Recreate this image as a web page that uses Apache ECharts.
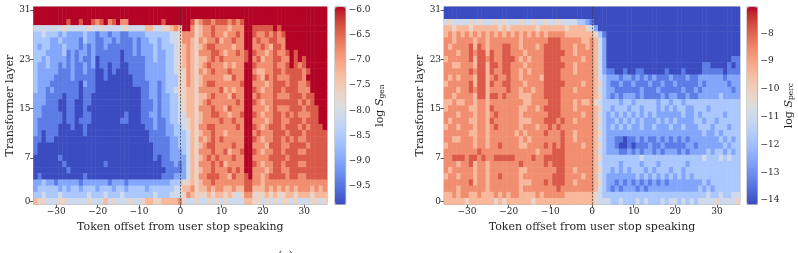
<!DOCTYPE html>
<html>
<head>
<meta charset="utf-8">
<script src="https://cdn.jsdelivr.net/npm/echarts@6/dist/echarts.min.js"></script>
<style>
html,body{margin:0;padding:0;background:#fff;}
#chart{width:798px;height:253px;}
</style>
</head>
<body>
<div id="chart"></div>
<script>
// ---------- data ----------
const X_OFFSETS = [-35,-34,-33,-32,-31,-30,-29,-28,-27,-26,-25,-24,-23,-22,-21,-20,-19,-18,-17,-16,-15,-14,-13,-12,-11,-10,-9,-8,-7,-6,-5,-4,-3,-2,-1,0,1,2,3,4,5,6,7,8,9,10,11,12,13,14,15,16,17,18,19,20,21,22,23,24,25,26,27,28,29,30,31,32,33,34,35];
const LAYERS = [0,1,2,3,4,5,6,7,8,9,10,11,12,13,14,15,16,17,18,19,20,21,22,23,24,25,26,27,28,29,30,31];
const X_TICKS = [-30,-20,-10,0,10,20,30];
const Y_TICKS = [0,7,15,23,31];
const GEN_TICKS = [-9.5,-9.0,-8.5,-8.0,-7.5,-7.0,-6.5,-6.0];
const PERC_TICKS = [-14,-13,-12,-11,-10,-9,-8];
const GEN_RANGE = [-9.864,-5.952];
const PERC_RANGE = [-14.16,-7.05];
// value of each code digit (read levels, blue -> red)
const GEN_LEVELS = [-9.86,-9.43,-8.99,-8.56,-8.12,-7.69,-7.26,-6.82,-6.39,-5.95];
const PERC_LEVELS = [-14.16,-13.37,-12.58,-11.79,-11.00,-10.21,-9.42,-8.63,-7.84,-7.05];

// rows listed from layer 31 (top) down to layer 0; columns offset -35 .. 35
const GEN_ROWS = [
"99999 99999 99999 99999 99999 99999 99999 99999 99999 99999 99999 99999 99999 99999 9",
"99999 99999 99999 99999 99999 99999 99999 99999 99999 99999 99999 99999 99999 99999 9",
"99999 99989 98998 78978 97799 99999 98999 99986 78878 88787 89999 99999 99999 99999 9",
"44444 44544 44454 45444 44544 44664 45567 69975 67787 77677 79988 88898 99999 99999 9",
"33433 32322 22322 12212 21122 22333 33344 57775 67787 76778 79987 78787 89999 99999 9",
"33332 23222 21322 11221 21112 12233 23344 57765 76778 67787 79978 77887 79999 99999 9",
"32332 22322 21212 11211 11112 12223 23334 56765 67887 77767 79977 87688 79999 99999 9",
"33322 22312 12212 11111 10112 12223 22334 56765 77788 76778 78987 76787 78989 99999 9",
"33232 22212 12112 01111 10111 11223 22334 56765 66787 87777 78978 67788 77989 89999 9",
"32232 21212 11212 01101 10011 11222 22334 56765 67877 76767 79987 77787 78987 89999 9",
"32222 21112 11211 00101 00011 11222 22334 55765 76787 77877 79976 67788 78888 78999 9",
"32222 11112 11111 00100 00001 11222 22333 55765 67777 76687 79987 68787 77888 79999 9",
"32221 11111 10211 00000 00001 11122 12333 55765 67887 77777 89977 76788 87887 78999 9",
"32212 11111 10111 00000 00000 01122 12334 55665 77777 86767 79987 67788 78887 77999 9",
"22211 11011 10110 00000 00000 01122 12233 55665 66787 77687 79978 77787 77888 78899 9",
"22211 10011 00110 00000 00000 01112 12233 45665 67877 77778 79987 67788 88887 87899 9",
"22111 10011 00100 00000 00000 01112 12233 45665 77787 76877 79977 76787 77888 78889 9",
"22111 11011 00110 00000 00100 01122 12233 44665 67788 77677 89987 67788 78787 77889 9",
"21111 11011 01110 00000 01100 01112 11233 44565 67777 87787 79977 76788 77888 78889 9",
"21111 10001 00100 00000 00000 00112 11223 34565 77887 77778 79987 67888 78887 87888 9",
"21011 10000 00100 00000 00000 00011 11223 33465 67787 76777 79978 77788 87888 78888 8",
"11011 00000 00000 00000 00000 00011 11122 33465 76787 87777 79987 67788 78787 78888 8",
"10000 00000 00000 00000 00000 00001 11122 33465 67887 77787 79977 76888 77888 87888 8",
"10000 00000 00000 00000 00000 00001 11122 23465 77787 78677 89987 67788 78887 78888 8",
"00000 01000 00000 00000 00000 00001 01122 22465 67878 77787 79977 77888 87888 88888 8",
"00000 00100 00000 00100 00000 00000 01112 12465 77787 86777 79987 67788 78887 78888 8",
"00000 00010 00000 00000 00000 00000 00111 12465 67787 77878 79977 76788 77888 88888 8",
"01000 00000 00100 00000 00000 00000 01112 22465 77888 77687 78977 67888 87887 78888 8",
"22322 12222 21222 22212 22122 22222 22233 35565 67787 77777 78877 67777 77777 77777 7",
"23333 32323 32333 23332 33233 33233 33334 46675 66767 76676 68866 67676 76767 77676 7",
"33433 34333 33343 33433 34333 33334 33344 45765 55656 65654 57755 56565 56656 66566 6",
"65544 45544 44454 44645 44454 45665 56666 75445 44545 45444 46655 45454 55454 44554 5"
];

const PERC_ROWS = [
"00000 00000 00000 00000 00000 00000 00000 00000 00000 00000 00000 00000 00000 00000 0",
"00000 00000 00000 00000 00000 00000 00000 00000 00000 00000 00000 00000 00000 00000 0",
"45444 45454 44545 44454 45445 44544 44332 10000 00000 00000 00000 00000 00000 00000 0",
"66566 65666 66656 56666 66566 66665 66665 42000 00000 00000 00000 00000 00000 00000 0",
"67676 76767 67676 76767 67676 77776 66666 65310 00000 00000 00000 00000 00000 00000 0",
"77677 77677 67777 77767 77777 88877 77766 76420 00000 00000 00000 00000 00000 00000 0",
"76777 78687 67778 87767 77678 88877 76776 76420 00000 00000 00000 00000 00000 00000 0",
"77767 78788 68778 87776 77778 88887 76777 76420 00000 00000 00000 00000 00000 00000 0",
"67777 78688 78778 88767 67778 88877 77767 76420 00000 00000 00000 00000 00000 00001 1",
"77667 77688 68878 87776 77778 88887 76777 76420 00000 00000 00000 00000 00110 00010 1",
"77777 78788 68778 87767 67778 88877 76777 76421 10010 01100 00010 00100 00111 11011 1",
"76767 77688 67877 87767 77768 88877 77777 76432 22122 12121 21112 11121 12222 22122 2",
"67777 78688 68778 87776 77778 88887 77767 76532 11211 21112 11211 21111 12122 22212 2",
"77767 78788 67777 87767 76778 88877 76777 76432 21111 11211 12111 11211 21222 22221 2",
"77677 77688 68878 77766 67778 88877 77777 76532 12122 21211 11212 21121 12222 23222 2",
"66766 77677 67777 77776 67777 88877 76766 75433 33233 23333 32332 33233 33333 33333 3",
"67777 76677 68777 77766 77678 88877 76777 76533 23332 33233 32323 23322 33323 33333 3",
"77767 77677 67877 77767 77777 88877 77767 76432 32323 23232 32222 22322 32333 33233 3",
"76777 76677 68777 77766 67778 88787 76777 76532 23232 32322 23232 32222 33233 23333 3",
"67767 77677 67877 77767 77677 87877 77777 76432 32323 22322 32223 22322 23332 33323 3",
"77777 76677 67777 77676 77778 77787 76777 76532 22222 22222 22222 22222 22322 32333 3",
"77667 77677 67777 77767 67777 77787 76777 76432 21101 12121 12121 21212 22222 23232 3",
"67777 77677 67787 77766 77778 78787 77767 76532 21001 01112 11211 11122 12222 22323 3",
"77777 77787 77777 77777 77677 78887 77777 76432 22112 12122 12122 21212 22232 33232 3",
"77888 78878 77888 88777 78778 88887 77777 76533 33333 33433 33333 33333 33433 34343 3",
"77767 78677 67777 77787 77778 78887 77777 76433 33233 33233 32333 33323 33333 33333 3",
"76777 77677 67777 77766 77777 77887 76777 76533 23232 33323 23332 33233 33333 33333 3",
"67767 77677 67787 77767 77777 78887 77767 76432 22222 23232 32323 23232 33333 33333 3",
"77777 78677 67777 77766 67778 78887 76777 76532 21212 12121 21212 22222 22323 33333 3",
"77767 77777 67777 77767 77777 77877 77777 76432 12122 21212 22222 22222 23232 33333 3",
"66767 76676 66767 67766 66767 77776 66666 65433 33333 33333 33333 33333 33343 34334 4",
"66666 56666 66565 66666 65666 66666 66666 65444 33433 34343 33434 43434 34444 54444 5"
];

// matplotlib "coolwarm"
const COOLWARM = ['#3b4cc0','#445acc','#4d68d7','#5775e1','#6282ea','#6c8ef1','#779af7','#82a5fb','#8db0fe','#98b9ff','#a3c2ff','#aec9fd','#b8d0f9','#c2d5f4','#ccd9ee','#d5dbe6','#dddddd','#e5d8d1','#ecd3c5','#f1ccb9','#f5c4ad','#f7bba0','#f7b194','#f7a687','#f49a7b','#f18d6f','#ec7f63','#e57058','#de604d','#d55042','#cb3e38','#c0282f','#b40426'];

function decode(rows, levels){
  const out = [];
  rows.forEach(function(str, i){
    const s = str.replace(/\s+/g,'');
    const layerIdx = LAYERS.length - 1 - i;
    for (let c = 0; c < s.length; c++) {
      out.push([c, layerIdx, levels[+s[c]]]);
    }
  });
  return out;
}
const genData = decode(GEN_ROWS, GEN_LEVELS);
const percData = decode(PERC_ROWS, PERC_LEVELS);

const FONT = 'DejaVu Serif';
const TXT = '#262626';
const minus = v => String(v).replace('-', '\u2212');
const xCats = X_OFFSETS.map(String);
const yCats = LAYERS.map(String);

const PLOT_TOP = 6.9, PLOT_H = 197.5;
const G = [
  {left:33.6, width:293.4},
  {left:444.1, width:295.8}
];
const CB = [{left:335, width:10.7}, {left:747, width:10.5}];

function heatXAxis(gi){
  return {
    type:'category', gridIndex:gi, data:xCats,
    axisLine:{show:false},
    axisTick:{show:true, alignWithLabel:true, length:3.5, lineStyle:{color:'#333', width:0.8},
      interval:(i,v)=>X_TICKS.indexOf(+v)>=0},
    axisLabel:{interval:(i,v)=>X_TICKS.indexOf(+v)>=0, formatter:minus, fontFamily:FONT, fontSize:9, color:TXT, margin:3},
    splitLine:{show:false},
    name:'Token offset from user stop speaking', nameLocation:'middle', nameGap:14,
    nameTextStyle:{fontFamily:FONT, fontSize:11, color:TXT}
  };
}
function heatYAxis(gi){
  return {
    type:'category', gridIndex:gi, data:yCats,
    axisLine:{show:false},
    axisTick:{show:true, alignWithLabel:true, length:3.5, lineStyle:{color:'#333', width:0.8},
      interval:(i,v)=>Y_TICKS.indexOf(+v)>=0},
    axisLabel:{interval:(i,v)=>Y_TICKS.indexOf(+v)>=0, fontFamily:FONT, fontSize:9, color:TXT, margin:3},
    splitLine:{show:false},
    name:'Transformer layer', nameLocation:'middle', nameGap:15,
    nameTextStyle:{fontFamily:FONT, fontSize:11, color:TXT}
  };
}
function cbYAxis(gi, range, ticks, fmt, sub){
  return {
    type:'value', gridIndex:gi, position:'right', min:range[0], max:range[1],
    axisLine:{show:false},
    axisTick:{show:true, customValues:ticks, length:3.5, lineStyle:{color:'#333', width:0.8}},
    axisLabel:{customValues:ticks, formatter:fmt, fontFamily:FONT, fontSize:9, color:TXT, margin:3},
    splitLine:{show:false},
    name:'{l|log }{s|S}{b|' + sub + '}', nameLocation:'middle', nameGap:21, nameRotate:90,
    nameTextStyle:{fontFamily:FONT, fontSize:11, color:TXT,
      rich:{l:{fontFamily:FONT, fontSize:11, color:TXT},
            s:{fontFamily:FONT, fontSize:11, fontStyle:'italic', color:TXT},
            b:{fontFamily:FONT, fontSize:7.5, color:TXT, padding:[5,0,0,0]}}}
  };
}
function mark(){
  return {silent:true, symbol:['none','none'], label:{show:false},
    lineStyle:{type:[2,1.5], color:'#3a3a3a', width:0.8, opacity:0.9},
    data:[{xAxis:'0'}]};
}

const chart = echarts.init(document.getElementById('chart'), null, {renderer:'canvas'});
chart.setOption({
  animation:false,
  backgroundColor:'#ffffff',
  grid:[
    {left:G[0].left, top:PLOT_TOP, width:G[0].width, height:PLOT_H, show:true, borderColor:'#8c8c8c', borderWidth:0.8, backgroundColor:'transparent'},
    {left:CB[0].left, top:PLOT_TOP, width:CB[0].width, height:PLOT_H, show:true, borderColor:'#8c8c8c', borderWidth:0.8, backgroundColor:'transparent'},
    {left:G[1].left, top:PLOT_TOP, width:G[1].width, height:PLOT_H, show:true, borderColor:'#8c8c8c', borderWidth:0.8, backgroundColor:'transparent'},
    {left:CB[1].left, top:PLOT_TOP, width:CB[1].width, height:PLOT_H, show:true, borderColor:'#8c8c8c', borderWidth:0.8, backgroundColor:'transparent'}
  ],
  xAxis:[
    heatXAxis(0),
    {type:'value', gridIndex:1, show:false, min:0, max:1},
    heatXAxis(2),
    {type:'value', gridIndex:3, show:false, min:0, max:1}
  ],
  yAxis:[
    heatYAxis(0),
    cbYAxis(1, GEN_RANGE, GEN_TICKS, v => minus(v.toFixed(1)), 'gen'),
    heatYAxis(2),
    cbYAxis(3, PERC_RANGE, PERC_TICKS, v => minus(v.toFixed(0)), 'perc')
  ],
  visualMap:[
    {type:'continuous', seriesIndex:0, min:GEN_RANGE[0], max:GEN_RANGE[1], calculable:false, orient:'vertical',
     left:CB[0].left, top:PLOT_TOP, itemWidth:CB[0].width, itemHeight:PLOT_H, padding:0, text:null, showLabel:false,
     inRange:{color:COOLWARM}},
    {type:'continuous', seriesIndex:1, min:PERC_RANGE[0], max:PERC_RANGE[1], calculable:false, orient:'vertical',
     left:CB[1].left, top:PLOT_TOP, itemWidth:CB[1].width, itemHeight:PLOT_H, padding:0, text:null, showLabel:false,
     inRange:{color:COOLWARM}}
  ],
  series:[
    {type:'heatmap', xAxisIndex:0, yAxisIndex:0, data:genData, itemStyle:{borderWidth:0}, emphasis:{disabled:true}, markLine:mark(), progressive:0},
    {type:'heatmap', xAxisIndex:2, yAxisIndex:2, data:percData, itemStyle:{borderWidth:0}, emphasis:{disabled:true}, markLine:mark(), progressive:0}
  ],
  graphic:[
    {type:'text', left:278, top:250.5, style:{text:'(a)', font:'11px "DejaVu Serif"', fill:TXT}}
  ]
});
</script>
</body>
</html>
